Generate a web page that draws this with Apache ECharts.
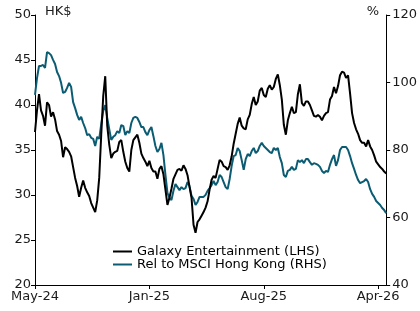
<!DOCTYPE html>
<html>
<head>
<meta charset="utf-8">
<script src="https://cdn.jsdelivr.net/npm/echarts@6/dist/echarts.min.js"></script>
<style>
  html, body { margin: 0; padding: 0; background: #fff; }
  #main { width: 420px; height: 311px; }
</style>
</head>
<body>
<div id="main"></div>
<script>
// Galaxy Entertainment share price, HK$ (LHS)
var galaxy = [
  37.0, 39.4, 41.2, 39.4, 38.8, 37.7, 40.3, 40.0, 38.7, 39.2,
  38.4, 37.1, 36.7, 36.0, 34.2, 35.3, 35.1, 34.8, 34.3, 33.1,
  31.9, 31.0, 29.8, 30.8, 31.6, 30.8, 30.3, 29.9, 29.1, 28.6,
  28.1, 29.4, 31.9, 36.7, 41.0, 43.2, 37.7, 35.6, 34.1, 34.6,
  34.8, 34.9, 35.9, 36.1, 34.8, 33.7, 33.0, 32.6, 35.0, 36.1,
  36.4, 36.7, 35.8, 34.6, 34.1, 33.7, 33.2, 33.8, 33.0, 32.6,
  32.6, 31.8, 32.9, 33.2, 32.3, 30.6, 28.9, 29.7, 30.7, 31.8,
  32.3, 32.8, 32.9, 32.7, 33.3, 32.9, 32.2, 30.9, 29.7, 26.7,
  25.8, 27.0, 27.3, 27.7, 28.1, 28.6, 29.3, 30.6, 31.7, 32.1,
  31.9, 32.9, 33.9, 33.7, 33.2, 33.1, 32.8, 33.3, 34.3, 35.7,
  36.8, 37.9, 38.6, 37.7, 37.4, 37.3, 38.4, 38.9, 40.1, 40.9,
  40.0, 40.4, 41.6, 41.9, 41.1, 40.9, 41.8, 42.2, 41.7, 42.0,
  42.9, 43.4, 42.2, 40.6, 37.8, 36.7, 38.3, 39.1, 39.8, 39.1,
  39.2, 41.2, 42.3, 40.2, 39.9, 40.4, 40.4, 40.0, 39.4, 38.8,
  38.7, 38.9, 38.7, 38.3, 38.8, 39.1, 39.2, 40.6, 41.0, 42.0,
  41.3, 42.1, 43.3, 43.7, 43.6, 43.0, 43.3, 41.3, 39.1, 38.0,
  37.3, 36.8, 36.1, 35.8, 35.8, 35.4, 36.1, 35.4, 35.0, 34.4,
  33.7, 33.4, 33.1, 32.9, 32.6, 32.4
];

// Relative to MSCI Hong Kong, % (RHS)
var relative = [
  96.3, 101.3, 104.9, 104.9, 105.2, 104.3, 109.0, 108.7, 108.1, 106.7,
  105.5, 103.1, 101.9, 99.9, 96.9, 97.2, 98.4, 99.9, 98.7, 94.2,
  92.4, 90.4, 88.9, 89.8, 88.0, 86.5, 84.4, 84.7, 83.6, 83.3,
  81.2, 83.9, 83.3, 87.7, 91.6, 93.3, 89.5, 86.2, 83.0, 83.9,
  84.4, 85.6, 85.0, 87.4, 87.1, 84.4, 85.6, 85.0, 88.0, 89.5,
  89.8, 89.5, 88.3, 86.8, 86.8, 85.3, 84.4, 85.9, 86.8, 84.1,
  81.2, 79.4, 80.3, 82.1, 78.5, 72.6, 67.3, 65.8, 65.2, 67.9,
  69.9, 69.0, 68.1, 69.0, 68.4, 68.7, 70.5, 69.3, 66.4, 65.5,
  63.7, 64.6, 66.1, 66.1, 66.1, 66.7, 67.9, 68.7, 69.6, 70.8,
  69.6, 70.5, 72.6, 72.0, 70.5, 69.0, 68.4, 71.4, 75.3, 78.2,
  78.5, 80.6, 79.7, 77.0, 74.1, 77.3, 78.8, 78.2, 79.7, 80.6,
  79.1, 79.7, 81.2, 82.1, 81.2, 80.6, 80.0, 79.4, 79.1, 80.6,
  80.0, 80.6, 77.9, 76.1, 72.6, 72.0, 73.8, 74.1, 75.0, 74.1,
  74.4, 77.0, 76.4, 77.0, 76.1, 77.3, 77.3, 76.4, 75.6, 76.1,
  75.9, 75.6, 75.0, 73.8, 73.2, 73.8, 73.5, 75.6, 77.3, 78.5,
  75.3, 77.0, 80.0, 80.9, 80.9, 80.9, 80.0, 78.2, 76.1, 74.4,
  72.6, 71.1, 70.2, 70.5, 70.8, 71.4, 70.5, 68.4, 67.0, 66.1,
  64.9, 64.3, 63.7, 62.8, 62.2, 61.3
];

var categories = galaxy.map(function (v, i) { return i; });
var tickLabels = ['May-24', 'Jan-25', 'Aug-25', 'Apr-26'];
var tickIndex = [0, 57, 114, 171];

var font = 'DejaVu Sans';
var textColor = '#1a1a1a';
var teal = '#0b5c73';

var myChart = echarts.init(document.getElementById('main'), null, { renderer: 'canvas' });

var option = {
  animation: false,
  grid: { left: 35, right: 32, top: 15, bottom: 26 },
  legend: {
    orient: 'vertical',
    left: 113,
    top: 245,
    padding: 0,
    icon: 'rect',
    itemWidth: 19,
    itemHeight: 2,
    itemGap: 0,
    textStyle: { fontFamily: font, fontSize: 13, color: '#000', lineHeight: 13 },
    data: ['Galaxy Entertainment (LHS)', 'Rel to MSCI Hong Kong (RHS)']
  },
  graphic: [
    { type: 'text', left: 45, top: 5, style: { text: 'HK$', font: '13px "DejaVu Sans"', fill: textColor } },
    { type: 'text', right: 41, top: 5, style: { text: '%', font: '13px "DejaVu Sans"', fill: textColor } }
  ],
  xAxis: {
    type: 'category',
    data: categories,
    boundaryGap: false,
    axisLine: { lineStyle: { color: '#000', width: 1 } },
    axisTick: {
      length: 4,
      lineStyle: { color: '#000' },
      interval: function (idx) { return tickIndex.indexOf(idx) >= 0; }
    },
    axisLabel: {
      interval: function (idx) { return tickIndex.indexOf(idx) >= 0; },
      formatter: function (val, idx) { return tickLabels[tickIndex.indexOf(idx)]; },
      margin: 5,
      fontFamily: font,
      fontSize: 13,
      color: textColor
    },
    splitLine: { show: false }
  },
  yAxis: [
    {
      type: 'value',
      min: 20,
      max: 50,
      interval: 5,
      position: 'left',
      axisLine: { show: true, lineStyle: { color: '#000', width: 1 } },
      axisTick: { show: true, length: 4, lineStyle: { color: '#000' } },
      axisLabel: { margin: 4, fontFamily: font, fontSize: 13, color: textColor },
      splitLine: { show: false }
    },
    {
      type: 'value',
      min: 40,
      max: 120,
      interval: 20,
      position: 'right',
      axisLine: { show: true, lineStyle: { color: '#000', width: 1 } },
      axisTick: { show: true, length: 4, lineStyle: { color: '#000' } },
      axisLabel: { margin: 6, fontFamily: font, fontSize: 13, color: textColor },
      splitLine: { show: false }
    }
  ],
  series: [
    {
      name: 'Galaxy Entertainment (LHS)',
      type: 'line',
      yAxisIndex: 0,
      data: galaxy,
      symbol: 'none',
      z: 3,
      lineStyle: { color: '#000', width: 2 },
      itemStyle: { color: '#000' }
    },
    {
      name: 'Rel to MSCI Hong Kong (RHS)',
      type: 'line',
      yAxisIndex: 1,
      data: relative,
      symbol: 'none',
      z: 2,
      lineStyle: { color: teal, width: 2 },
      itemStyle: { color: teal }
    }
  ]
};

myChart.setOption(option);
</script>
</body>
</html>
